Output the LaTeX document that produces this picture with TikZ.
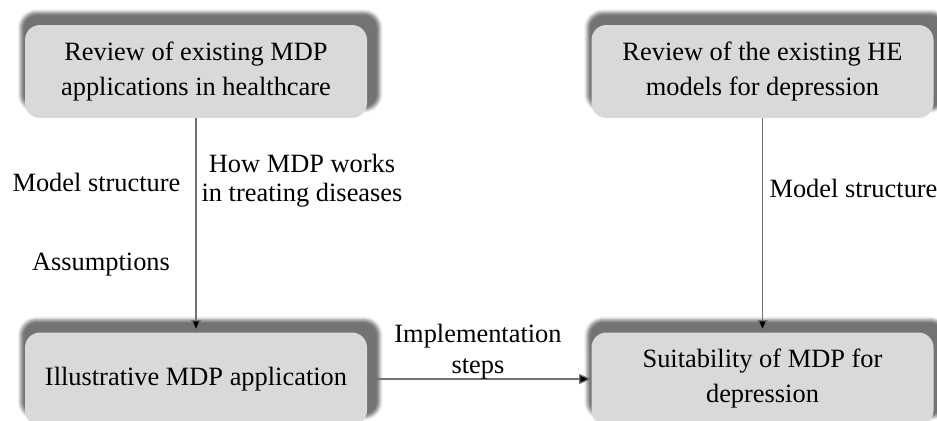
\documentclass[tikz,border=0pt]{standalone}
\usepackage{fontspec}
\setmainfont{Liberation Serif}
\usepackage{xcolor}
\usepackage{tikz}
\usetikzlibrary{arrows.meta,shapes,shadows.blur}

\definecolor{boxgray}{RGB}{217,217,217}

\begin{document}
\begin{tikzpicture}[x=0.5pt,y=-0.5pt]
      \tikzstyle{step_box}=[fill=boxgray, rounded corners=7.5pt, minimum width=171pt, minimum height=46.5pt,
        align=center, font=\fontsize{13.2}{17.5}\selectfont,
        blur shadow={shadow xshift=2pt, shadow yshift=5pt, shadow scale=1.05, shadow opacity=55, shadow blur radius=1.5pt}]
      \tikzstyle{edge_text}=[align=center, font=\fontsize{13.2}{14.5}\selectfont]
      \tikzstyle{flow}=[draw=black!55, line width=0.6pt, -{Triangle[length=6pt,width=5pt,fill=black]}]

      \useasboundingbox (0,0) rectangle (937,420);

      % boxes
      \node [step_box] (review_mdp) at (196,71.5) {Review of existing MDP\\applications in healthcare};
      \node [step_box] (review_he) at (762.5,71.5) {Review of the existing HE\\models for depression};
      \node [step_box] (illustrative) at (196,379) {Illustrative MDP application};
      \node [step_box] (suitability) at (762.5,379) {Suitability of MDP for\\depression};

      % connectors
      \draw [flow] (review_mdp) -- (illustrative);
      \draw [flow] (review_he) -- (suitability);
      \draw [flow] (illustrative) -- (suitability);

      % labels
      \node [edge_text] (structure_left) at (96.5,182) {Model structure};
      \node [edge_text] (assumptions) at (101,265) {Assumptions};
      \node [edge_text] (how_mdp) at (302,181) {How MDP works\\in treating diseases};
      \node [edge_text] (structure_right) at (853.5,188) {Model structure};
      \node [edge_text, font=\fontsize{13.2}{15.5}\selectfont] (implementation) at (478,352) {Implementation\\steps};
    \end{tikzpicture}
\end{document}
